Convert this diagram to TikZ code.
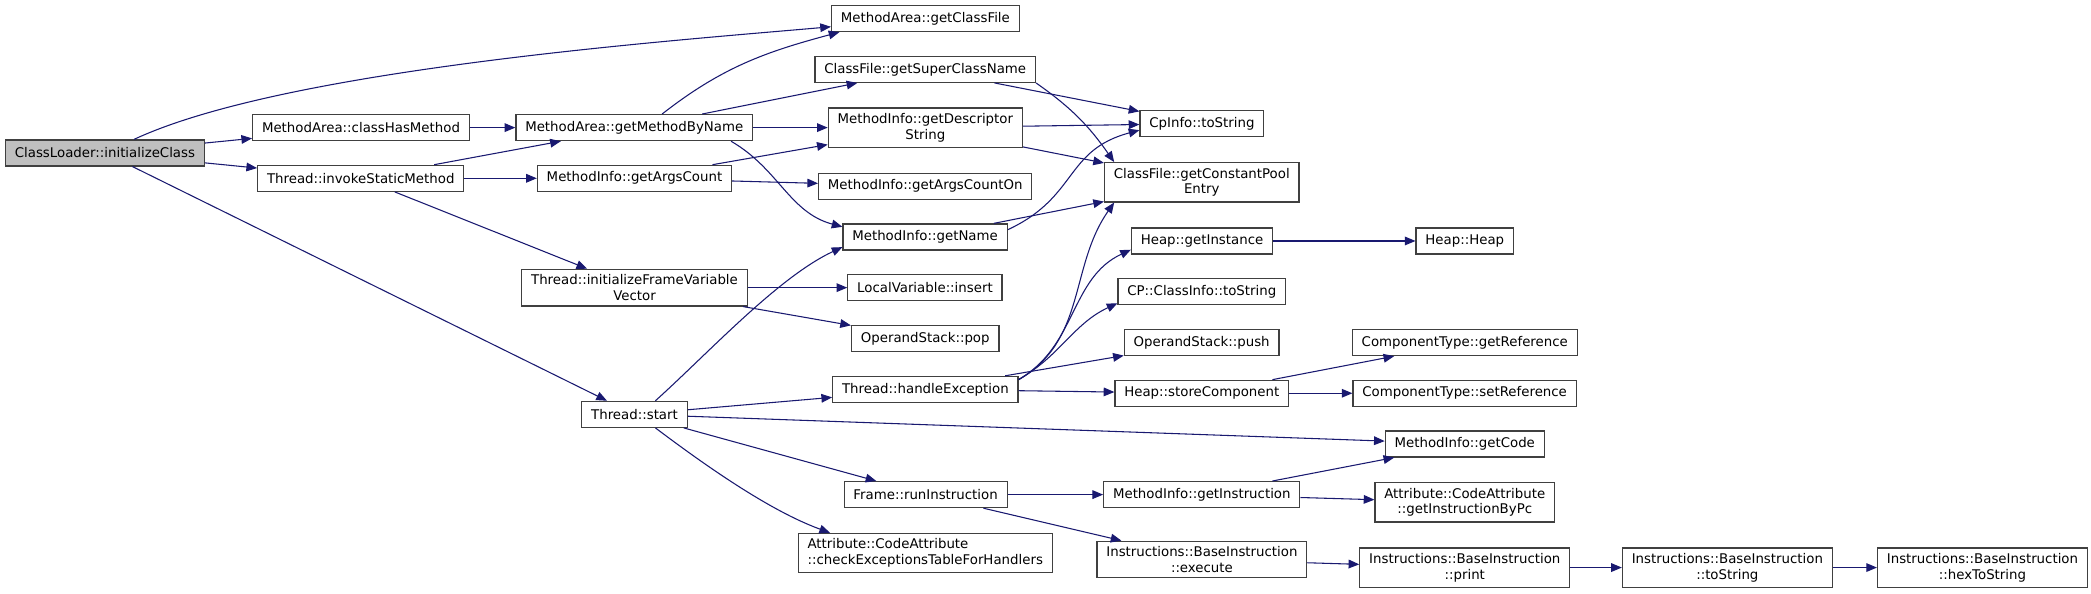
\documentclass[tikz,border=0pt]{standalone}
\usepackage{fontspec}
\setmainfont{DejaVu Sans}
\usetikzlibrary{arrows.meta}
\definecolor{edgeblue}{HTML}{191970}
\definecolor{rootgray}{HTML}{BFBFBF}
\begin{document}
\begin{tikzpicture}[x=1pt,y=1pt,font=\fontsize{10}{11.75}\selectfont,
  fn/.style={draw=black!75,line width=.9pt,fill=white,inner xsep=7pt,inner ysep=4pt,minimum height=19.5pt,align=center},
  edge/.style={draw=edgeblue,line width=.8pt,-{Triangle[length=8pt,width=6.5pt]}}]
\useasboundingbox (0,0) rectangle (1568,445);
% callers on the left
\node[fn,fill=rootgray](cl)at(78.7,330.3){ClassLoader::initializeClass};
\node[fn](hasm)at(270.7,349.3){MethodArea::classHasMethod};
\node[fn](invk)at(270.5,311.3){Thread::invokeStaticMethod};
\node[fn](gmbn)at(475.6,349.3){MethodArea::getMethodByName};
\node[fn](gac)at(475.8,311.3){MethodInfo::getArgsCount};
\node[fn](ifv)at(475.8,229.3){Thread::initializeFrameVariable\\Vector};
\node[fn](start)at(475.8,134.3){Thread::start};
% middle column
\node[fn](gcf)at(693.9,431.1){MethodArea::getClassFile};
\node[fn](gscn)at(693.8,393){ClassFile::getSuperClassName};
\node[fn](gds)at(693.9,349.3){MethodInfo::getDescriptor\\String};
\node[fn](gaco)at(693.8,305.3){MethodInfo::getArgsCountOn};
\node[fn](gnm)at(693.7,267.3){MethodInfo::getName};
\node[fn](lvi)at(693.6,229.3){LocalVariable::insert};
\node[fn](pop)at(693.8,191.3){OperandStack::pop};
\node[fn](hex)at(693.9,153){Thread::handleException};
\node[fn](fri)at(694.1,74.1){Frame::runInstruction};
\node[fn,align=left](chk)at(693.8,30.3){Attribute::CodeAttribute\\::checkExceptionsTableForHandlers};
% callees
\node[fn](cpts)at(901.3,352.3){CpInfo::toString};
\node[fn](gcpe)at(901.2,308.3){ClassFile::getConstantPool\\Entry};
\node[fn](hgi)at(901.4,264.3){Heap::getInstance};
\node[fn](cpci)at(901.2,226.5){CP::ClassInfo::toString};
\node[fn](push)at(901.1,188.3){OperandStack::push};
\node[fn](hsc)at(901.2,150.1){Heap::storeComponent};
\node[fn](gin)at(901.2,74.1){MethodInfo::getInstruction};
\node[fn](exe)at(901.3,25.4){Instructions::BaseInstruction\\::execute};
\node[fn](heap)at(1098.4,264.3){Heap::Heap};
\node[fn](gref)at(1098.4,188.1){ComponentType::getReference};
\node[fn](sref)at(1098.3,150.1){ComponentType::setReference};
\node[fn](gcode)at(1098.4,112.1){MethodInfo::getCode};
\node[fn](gipc)at(1098.4,68.3){Attribute::CodeAttribute\\::getInstructionByPc};
\node[fn](prt)at(1098.4,19.4){Instructions::BaseInstruction\\::print};
\node[fn](tos)at(1295.3,19.4){Instructions::BaseInstruction\\::toString};
\node[fn](hts)at(1486.6,19.4){Instructions::BaseInstruction\\::hexToString};
% straight calls
\foreach\a/\b in{cl/hasm,cl/invk,cl/start,hasm/gmbn,invk/gmbn,invk/gac,invk/ifv,gmbn/gscn,gmbn/gds,
  gac/gds,gac/gaco,gscn/cpts,gds/cpts,gds/gcpe,gnm/gcpe,ifv/lvi,ifv/pop,start/hex,start/gcode,start/fri,
  hex/push,hex/hsc,hsc/gref,hsc/sref,hgi/heap,fri/gin,fri/exe,gin/gcode,gin/gipc,exe/prt,prt/tos,tos/hts}
  {\draw[edge](\a)--(\b);}
% bent calls
\draw[edge](cl)to[out=25,in=185,looseness=.6](gcf);
\draw[edge](gmbn.26)to[out=38,in=195](gcf.189);
\draw[edge](gmbn.-8)to[out=-30,in=165](gnm.173);
\draw[edge](gscn.-7)to[out=-35,in=125](gcpe.167);
\draw[edge](gnm.5)to[out=25,in=195,looseness=1.2](cpts.186);
\draw[edge](start.33)to[out=42,in=205,looseness=.75](gnm.187);
\draw[edge](start.-33)to[out=-37,in=160,looseness=.8](chk.168);
\draw[edge](hex.6)to[out=30,in=-125](gcpe.193);
\draw[edge](hex.6)to[out=30,in=205](hgi.187);
\draw[edge](hex.6)to[out=30,in=205](cpci.188);
\end{tikzpicture}
\end{document}
